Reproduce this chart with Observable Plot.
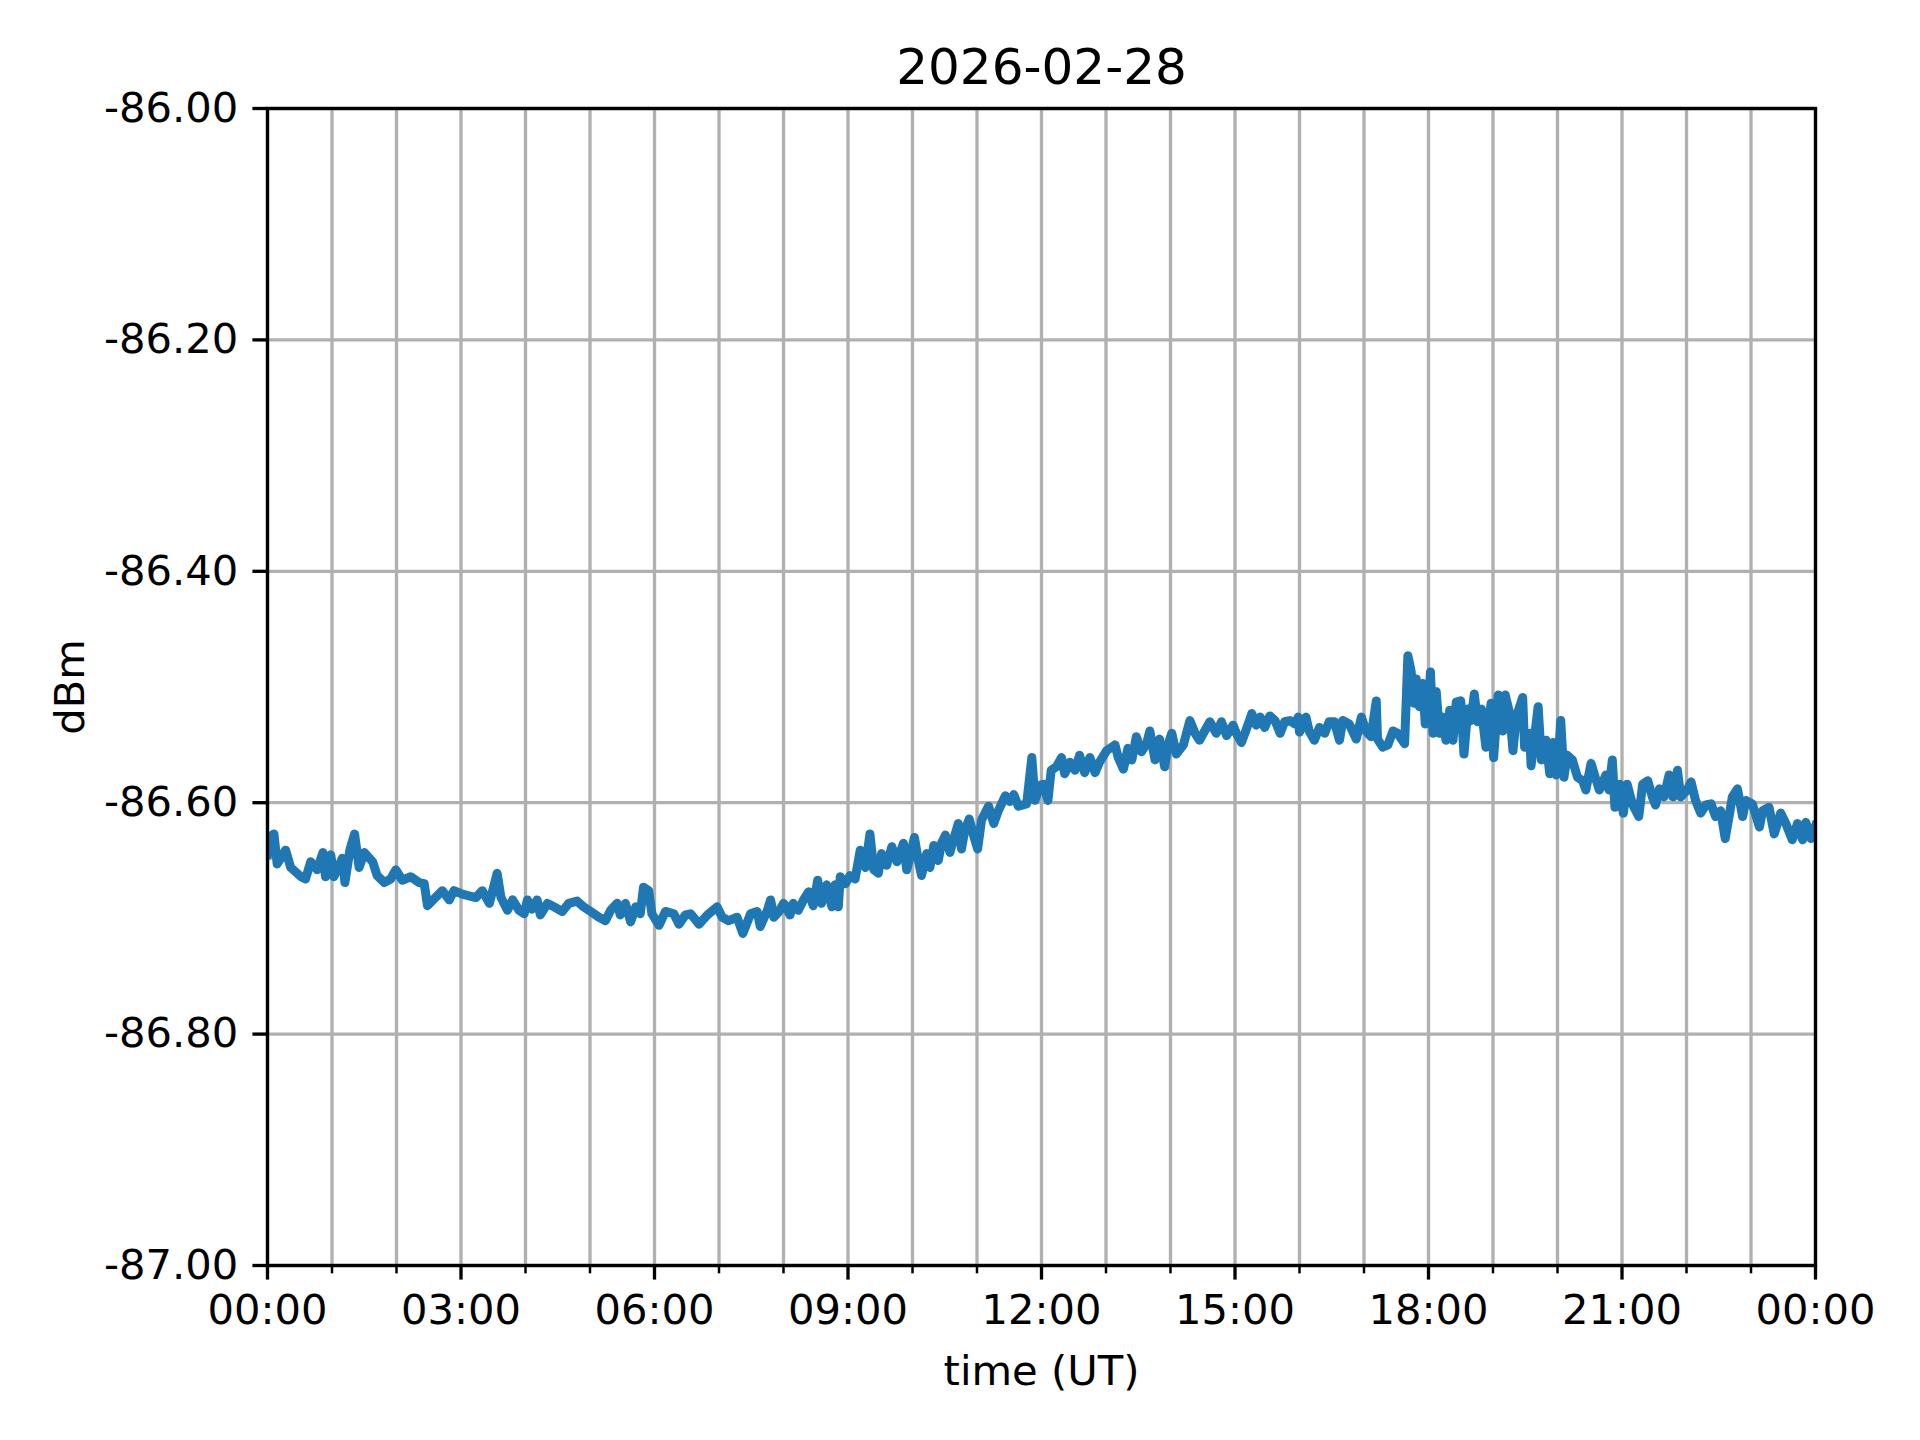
<!DOCTYPE html>
<html>
<head>
<meta charset="utf-8">
<script src="https://cdn.jsdelivr.net/npm/d3@7"></script>
<script src="https://cdn.jsdelivr.net/npm/@observablehq/plot@0.6"></script>
<style>
  html, body { margin: 0; padding: 0; background: white; }
  #chart { width: 1920px; height: 1440px; }
</style>
</head>
<body>
<div id="chart"></div>
<script>
// ---- data ----
const title = "2026-02-28";
const xLabel = "time (UT)";
const yLabel = "dBm";

const yTicks = [-87.0, -86.8, -86.6, -86.4, -86.2, -86.0];
const xMajorTicks = [0, 3, 6, 9, 12, 15, 18, 21, 24];
const xMinorTicks = [1, 2, 4, 5, 7, 8, 10, 11, 13, 14, 16, 17, 19, 20, 22, 23];

// hours since 00:00 UT
const hours = [
  0.00, 0.03, 0.10, 0.15, 0.28, 0.36, 0.52, 0.59, 0.67, 0.77, 0.86, 0.90, 0.98, 1.03, 1.16, 1.20, 1.28, 1.35, 1.42, 1.50,
  1.63, 1.70, 1.81, 1.91, 1.99, 2.09, 2.22, 2.35, 2.43, 2.48, 2.71, 2.82, 2.89, 3.02, 3.23, 3.33, 3.44, 3.56, 3.62, 3.72,
  3.80, 3.90, 3.98, 4.03, 4.10, 4.18, 4.23, 4.34, 4.44, 4.57, 4.67, 4.80, 4.90, 5.01, 5.14, 5.24, 5.32, 5.42, 5.47, 5.55,
  5.63, 5.71, 5.78, 5.83, 5.91, 5.96, 6.07, 6.17, 6.30, 6.38, 6.48, 6.56, 6.69, 6.82, 6.97, 7.05, 7.15, 7.28, 7.37, 7.49,
  7.59, 7.64, 7.75, 7.80, 7.85, 7.93, 8.00, 8.03, 8.10, 8.15, 8.23, 8.31, 8.39, 8.46, 8.53, 8.59, 8.67, 8.75, 8.80, 8.85,
  8.88, 8.96, 9.03, 9.11, 9.19, 9.27, 9.34, 9.40, 9.47, 9.52, 9.60, 9.68, 9.76, 9.86, 9.91, 9.96, 10.03, 10.09, 10.14, 10.22,
  10.27, 10.33, 10.40, 10.45, 10.51, 10.58, 10.63, 10.71, 10.76, 10.81, 10.88, 10.94, 11.01, 11.07, 11.18, 11.26, 11.33, 11.44, 11.51, 11.57,
  11.64, 11.77, 11.85, 11.90, 11.98, 12.03, 12.10, 12.15, 12.23, 12.31, 12.36, 12.44, 12.52, 12.59, 12.67, 12.75, 12.83, 12.90, 13.01, 13.14,
  13.19, 13.27, 13.34, 13.40, 13.47, 13.55, 13.63, 13.68, 13.76, 13.83, 13.91, 13.96, 14.02, 14.09, 14.20, 14.30, 14.38, 14.45, 14.53, 14.61,
  14.71, 14.79, 14.87, 14.97, 15.02, 15.10, 15.18, 15.26, 15.33, 15.39, 15.46, 15.54, 15.62, 15.70, 15.77, 15.85, 15.93, 15.98, 16.00, 16.10,
  16.15, 16.23, 16.31, 16.39, 16.46, 16.54, 16.62, 16.67, 16.77, 16.88, 16.96, 17.03, 17.11, 17.19, 17.21, 17.29, 17.37, 17.45, 17.52, 17.63,
  17.68, 17.73, 17.77, 17.81, 17.86, 17.91, 17.95, 17.99, 18.03, 18.07, 18.12, 18.17, 18.22, 18.27, 18.33, 18.38, 18.43, 18.50, 18.55, 18.61,
  18.66, 18.71, 18.76, 18.82, 18.89, 18.97, 19.01, 19.08, 19.15, 19.19, 19.26, 19.31, 19.36, 19.46, 19.49, 19.57, 19.59, 19.70, 19.75, 19.82,
  19.88, 19.93, 19.98, 20.00, 20.05, 20.10, 20.15, 20.23, 20.31, 20.39, 20.44, 20.52, 20.59, 20.65, 20.75, 20.80, 20.85, 20.89, 20.96, 21.02,
  21.08, 21.16, 21.26, 21.32, 21.40, 21.47, 21.52, 21.58, 21.65, 21.73, 21.79, 21.86, 21.91, 22.01, 22.07, 22.14, 22.22, 22.30, 22.38, 22.45,
  22.53, 22.60, 22.66, 22.71, 22.79, 22.87, 22.92, 23.02, 23.13, 23.18, 23.28, 23.36, 23.46, 23.54, 23.64, 23.72, 23.80, 23.85, 23.93, 24.00
];

const dbm = [
  -86.645, -86.630, -86.627, -86.653, -86.641, -86.656, -86.664, -86.666, -86.651, -86.658, -86.643, -86.664, -86.645, -86.664, -86.648, -86.669, -86.640, -86.627, -86.656, -86.643,
  -86.651, -86.663, -86.669, -86.666, -86.658, -86.667, -86.664, -86.669, -86.670, -86.689, -86.676, -86.684, -86.676, -86.679, -86.682, -86.676, -86.687, -86.661, -86.682, -86.693,
  -86.684, -86.693, -86.696, -86.684, -86.692, -86.684, -86.697, -86.687, -86.690, -86.694, -86.687, -86.685, -86.690, -86.694, -86.699, -86.702, -86.693, -86.687, -86.697, -86.687,
  -86.703, -86.690, -86.696, -86.673, -86.676, -86.696, -86.706, -86.694, -86.696, -86.705, -86.697, -86.696, -86.705, -86.697, -86.690, -86.699, -86.702, -86.699, -86.713, -86.696,
  -86.694, -86.707, -86.693, -86.684, -86.699, -86.694, -86.687, -86.689, -86.697, -86.687, -86.693, -86.684, -86.677, -86.689, -86.667, -86.687, -86.671, -86.690, -86.671, -86.690,
  -86.664, -86.670, -86.663, -86.666, -86.641, -86.656, -86.627, -86.658, -86.661, -86.644, -86.654, -86.638, -86.651, -86.635, -86.658, -86.647, -86.630, -86.650, -86.663, -86.644,
  -86.656, -86.637, -86.650, -86.635, -86.628, -86.643, -86.633, -86.618, -86.640, -86.624, -86.614, -86.627, -86.640, -86.615, -86.603, -86.618, -86.607, -86.594, -86.599, -86.593,
  -86.603, -86.601, -86.561, -86.598, -86.585, -86.584, -86.598, -86.572, -86.569, -86.561, -86.575, -86.565, -86.572, -86.559, -86.574, -86.561, -86.574, -86.565, -86.555, -86.550,
  -86.561, -86.571, -86.553, -86.563, -86.543, -86.556, -86.549, -86.538, -86.563, -86.545, -86.569, -86.550, -86.540, -86.558, -86.550, -86.529, -86.540, -86.546, -86.538, -86.530,
  -86.540, -86.530, -86.542, -86.533, -86.540, -86.548, -86.536, -86.523, -86.533, -86.526, -86.535, -86.525, -86.529, -86.540, -86.530, -86.529, -86.532, -86.526, -86.539, -86.526,
  -86.538, -86.546, -86.535, -86.540, -86.530, -86.530, -86.546, -86.529, -86.532, -86.545, -86.526, -86.538, -86.543, -86.512, -86.545, -86.552, -86.550, -86.538, -86.540, -86.549,
  -86.473, -86.486, -86.514, -86.493, -86.517, -86.497, -86.532, -86.529, -86.487, -86.540, -86.504, -86.540, -86.526, -86.546, -86.520, -86.546, -86.513, -86.512, -86.558, -86.519,
  -86.529, -86.506, -86.530, -86.519, -86.552, -86.514, -86.561, -86.507, -86.538, -86.507, -86.523, -86.555, -86.526, -86.509, -86.552, -86.540, -86.568, -86.517, -86.563, -86.546,
  -86.575, -86.548, -86.576, -86.575, -86.529, -86.578, -86.559, -86.563, -86.578, -86.581, -86.589, -86.566, -86.579, -86.589, -86.576, -86.589, -86.563, -86.604, -86.584, -86.609,
  -86.584, -86.601, -86.612, -86.584, -86.581, -86.595, -86.602, -86.588, -86.595, -86.576, -86.595, -86.572, -86.595, -86.589, -86.582, -86.598, -86.609, -86.602, -86.601, -86.612,
  -86.607, -86.631, -86.612, -86.595, -86.588, -86.612, -86.598, -86.601, -86.621, -86.607, -86.604, -86.627, -86.609, -86.618, -86.632, -86.618, -86.632, -86.617, -86.631, -86.620
];

// ---- build ----
const data = hours.map((h, i) => ({hour: h, dbm: dbm[i]}));
const hhmm = h => String(h % 24).padStart(2, "0") + ":00";
const allHours = d3.range(0, 25);

const PT = 300 / 72; // matplotlib points -> px at 300 dpi
const fs = 10 * PT;

const chart = Plot.plot({
  width: 1920,
  height: 1440,
  marginLeft: 267,
  marginRight: 105,
  marginTop: 108,
  marginBottom: 175,
  style: {fontFamily: "'DejaVu Sans', sans-serif", fontSize: fs + "px", background: "white", color: "black"},
  x: {type: "linear", domain: [0, 24]},
  y: {type: "linear", domain: [-87, -86]},
  marks: [
    Plot.gridX(allHours, {stroke: "#b0b0b0", strokeOpacity: 1, strokeWidth: 0.8 * PT}),
    Plot.gridY(yTicks, {stroke: "#b0b0b0", strokeOpacity: 1, strokeWidth: 0.8 * PT}),
    Plot.line(data, {x: "hour", y: "dbm", stroke: "#1f77b4", strokeWidth: 9, strokeLinejoin: "round", strokeLinecap: "square", clip: true}),
    Plot.frame({stroke: "black", strokeWidth: 0.8 * PT}),
    Plot.axisX(xMinorTicks, {tickSize: 2 * PT, strokeWidth: 0.6 * PT, tickFormat: () => "", label: null}),
    Plot.axisX(xMajorTicks, {tickSize: 3.5 * PT, strokeWidth: 0.8 * PT, tickPadding: 3.5 * PT, tickFormat: hhmm, fontSize: fs, label: null}),
    Plot.axisY(yTicks, {tickSize: 3.5 * PT, strokeWidth: 0.8 * PT, tickPadding: 3.5 * PT, tickFormat: d => d.toFixed(2), fontSize: fs, label: null}),
    Plot.text([title], {frameAnchor: "top", lineAnchor: "middle", textAnchor: "middle", dy: -41, fontSize: 12 * PT, fill: "black"}),
    Plot.text([xLabel], {frameAnchor: "bottom", lineAnchor: "middle", textAnchor: "middle", dy: 106, fontSize: fs, fill: "black"}),
    Plot.text([yLabel], {frameAnchor: "left", lineAnchor: "middle", textAnchor: "middle", dx: -197, rotate: -90, fontSize: fs, fill: "black"})
  ]
});

document.getElementById("chart").appendChild(chart);
</script>
</body>
</html>
